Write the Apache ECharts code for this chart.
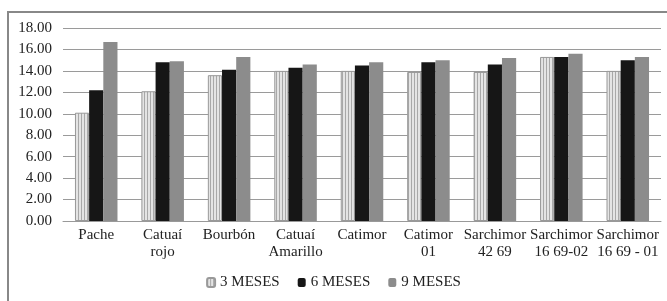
<!DOCTYPE html>
<html>
<head>
<meta charset="utf-8">
<script src="https://cdn.jsdelivr.net/npm/echarts@6/dist/echarts.min.js"></script>
<style>
  html, body { margin: 0; padding: 0; background: #fff; }
  #chart { width: 667px; height: 301px; }
</style>
</head>
<body>
<div id="chart"></div>
<script>
// variedades
const categories = ['Pache', 'Catuaí\nrojo', 'Bourbón', 'Catuaí\nAmarillo', 'Catimor',
    'Catimor\n01', 'Sarchimor\n42 69', 'Sarchimor\n16 69-02', 'Sarchimor\n16 69 - 01'];
const seriesNames = ['3 MESES', '6 MESES', '9 MESES'];
const meses3 = [10.1, 12.1, 13.6, 14.0, 14.0, 13.9, 13.9, 15.3, 14.0];
const meses6 = [12.2, 14.8, 14.1, 14.3, 14.5, 14.8, 14.6, 15.3, 15.0];
const meses9 = [16.7, 14.9, 15.3, 14.6, 14.8, 15.0, 15.2, 15.6, 15.3];

// patron de rayas verticales para 3 meses
function stripes() {
    const c = document.createElement('canvas')
    c.width = 6; c.height = 4
    const ctx = c.getContext('2d')
    ctx.fillStyle = '#e4e4e4'
    ctx.fillRect(0, 0, 6, 4)
    ctx.fillStyle = '#a8a8a8'
    ctx.fillRect(0, 0, 1, 4)
    ctx.fillRect(3, 0, 1, 4)
    return c
}

const font = '"Liberation Serif", "DejaVu Serif", serif'
const chart = echarts.init(document.getElementById('chart'))

chart.setOption({
    animation: false,
    textStyle: { fontFamily: font },
    graphic: [{
        type: 'rect',
        shape: { x: 8, y: 12, width: 670, height: 300 },
        style: { fill: 'none', stroke: '#888', lineWidth: 2 }
    }],
    legend: {
        top: 270,
        left: 'center',
        itemWidth: 8, itemHeight: 9, itemGap: 18,
        textStyle: { fontFamily: font, fontSize: 15, color: '#222' },
        data: seriesNames
    },
    grid: { left: 63, right: 6, top: 28, bottom: 80 },
    xAxis: {
        type: 'category',
        data: categories,
        axisTick: { show: false },
        axisLine: { lineStyle: { color: '#999' } },
        axisLabel: { interval: 0, fontFamily: font, fontSize: 15, color: '#222', lineHeight: 17, margin: 6 }
    },
    yAxis: {
        type: 'value',
        min: 0, max: 18, interval: 2,
        axisLabel: { formatter: v => v.toFixed(2), fontFamily: font, fontSize: 15, color: '#222', margin: 11 },
        splitLine: { lineStyle: { color: '#9a9a9a' } },
        axisLine: { show: false },
        axisTick: { show: false }
    },
    series: [
        { name: seriesNames[0], type: 'bar', data: meses3, barGap: '0%', barCategoryGap: '36%',
          itemStyle: { color: { image: stripes(), repeat: 'repeat' }, borderColor: '#999', borderWidth: 1 } },
        { name: seriesNames[1], type: 'bar', data: meses6,
          itemStyle: { color: '#161616' } },
        { name: seriesNames[2], type: 'bar', data: meses9,
          itemStyle: { color: '#8c8c8c' } }
    ]
})
</script>
</body>
</html>
